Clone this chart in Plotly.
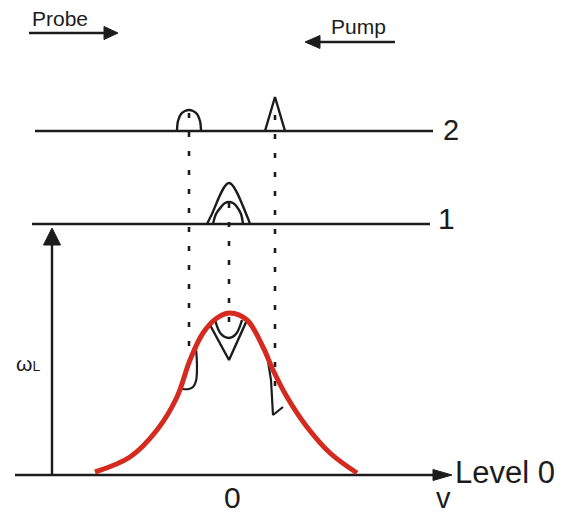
import plotly.graph_objects as go

# ---- data (x: velocity units, 0 at line centre; y: energy units, 0 at Level 0) ----
level_names = ["Level 0", "1", "2"]
level_y = [0, 251, 344]
level1_x = [-198, 200]
level2_x = [-195, 203]
axis_x = [-215, 222]

# Doppler (Maxwell) profile
gauss_x = [-135, -100, -73, -53, -40, -27, -13, 0, 17, 33, 43, 57, 77, 100, 127]
gauss_y = [3, 18, 45, 78, 115, 142, 157, 162, 155, 128, 105, 78, 48, 22, 2]

# velocity groups selected by the lasers
group_x = [-41, -1, 45]
dot_top = [362, 272, 360]
dot_bottom = [100, 140, 75]

# level 2 features
bump2_x = [-53, -52, -49, -45, -41, -37, -33, -30, -29]
bump2_y = [344, 354, 361, 364, 365, 364, 361, 354, 344]
tri2_x = [35, 45, 55]
tri2_y = [344, 378, 344]

# level 1 features
outer1_x = [-23, -19, -1, 17, 20]
outer1_y = [251, 259, 292, 259, 251]
inner1_x = [-17, -14, -9, -5, -1, 3, 7, 11, 13]
inner1_y = [251, 261, 268, 272, 273, 272, 268, 261, 251]

# level 0 holes
outerV_x = [-20, -1, 17]
outerV_y = [150, 115, 155]
innerU_x = [-15, -9, -1, 6, 12]
innerU_y = [155, 141, 137, 141, 155]
hook_x = [-34, -33, -34, -37, -41, -48]
hook_y = [127, 108, 94, 88, 86, 86]
dip_x = [37, 41, 43, 53]
dip_y = [120, 95, 60, 68]

probe_arrow_x = [-201, -112]
probe_arrow_y = 442
pump_arrow_x = [165, 75]
pump_arrow_y = 433
omega_arrow_x = -178
omega_arrow_y = [0, 247]

BLACK = "#1c1c1c"
RED = "#d42a1f"

fig = go.Figure()


def line(x, y, width=2.4, color=BLACK, shape="linear", dash=None):
    fig.add_trace(go.Scatter(x=x, y=y, mode="lines", hoverinfo="skip",
                             line=dict(color=color, width=width, shape=shape,
                                       dash=dash)))


def head(tip_x, tip_y, dx, dy, length, half):
    # filled triangle arrowhead, direction (dx, dy) unit
    bx, by = tip_x - dx * length, tip_y - dy * length
    px, py = -dy, dx
    fig.add_trace(go.Scatter(
        x=[tip_x, bx + px * half, bx - px * half, tip_x],
        y=[tip_y, by + py * half, by - py * half, tip_y],
        mode="lines", fill="toself", fillcolor=BLACK,
        line=dict(color=BLACK, width=1), hoverinfo="skip"))


# level lines
line(axis_x[:1] + [axis_x[1] - 12], [level_y[0]] * 2)
head(axis_x[1], level_y[0], 1, 0, 19, 5.5)
line(level1_x, [level_y[1]] * 2)
line(level2_x, [level_y[2]] * 2)

# omega_L arrow
line([omega_arrow_x] * 2, [omega_arrow_y[0], omega_arrow_y[1] - 12])
head(omega_arrow_x, omega_arrow_y[1], 0, 1, 17, 8.5)

# probe / pump arrows
line([probe_arrow_x[0], probe_arrow_x[1] - 10], [probe_arrow_y] * 2)
head(probe_arrow_x[1], probe_arrow_y, 1, 0, 14, 6.5)
line([pump_arrow_x[0], pump_arrow_x[1] + 10], [pump_arrow_y] * 2)
head(pump_arrow_x[1], pump_arrow_y, -1, 0, 15, 6.5)

# dotted guides
for gx, t, b in zip(group_x, dot_top, dot_bottom):
    line([gx, gx], [t, b], width=2.6, dash="5px,14px")

# features
line(bump2_x, bump2_y, shape="spline")
line(tri2_x, tri2_y)
line(outer1_x, outer1_y, shape="spline")
line(inner1_x, inner1_y, shape="spline")
line(outerV_x, outerV_y)
line(innerU_x, innerU_y, shape="spline")
line(hook_x, hook_y, width=2.2, shape="spline")
line(dip_x, dip_y, width=2.2)

# Doppler profile
line(gauss_x, gauss_y, width=5, color=RED, shape="spline")

FONT = "Arial, Liberation Sans, sans-serif"
texts = [
    (223, 3, "Level 0", 31, "left", "middle"),
    (221, 345, "2", 29, "center", "middle"),
    (216, 257, "1", 30, "center", "middle"),
    (2, -22, "0", 30, "center", "middle"),
    (213, -41, "v", 29, "center", "bottom"),
    (-170, 457, "Probe", 21, "center", "middle"),
    (128, 449, "Pump", 21, "center", "middle"),
]
for x, y, t, s, xa, ya in texts:
    fig.add_annotation(x=x, y=y, text=t, showarrow=False, xanchor=xa,
                       yanchor=ya, font=dict(family=FONT, size=s,
                                             color=BLACK))
fig.add_annotation(x=-202, y=112, text="ω<span style='font-size:14px'>L</span>",
                   showarrow=False, xanchor="center", yanchor="middle",
                   font=dict(family=FONT, size=21, color=BLACK))

fig.update_layout(
    width=563, height=517, autosize=False,
    margin=dict(l=0, r=0, t=0, b=0),
    paper_bgcolor="white", plot_bgcolor="white",
    showlegend=False,
    xaxis=dict(range=[-230, 333], visible=False, fixedrange=True),
    yaxis=dict(range=[-42, 475], visible=False, fixedrange=True),
)

fig.write_html("out.html", config={"displayModeBar": False},
               post_script="document.body.style.margin='0';"
                           "document.body.style.overflow='hidden';")
